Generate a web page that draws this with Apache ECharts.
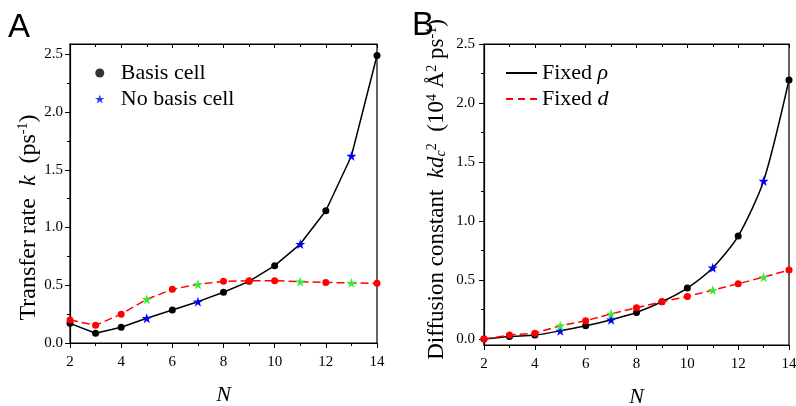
<!DOCTYPE html>
<html><head><meta charset="utf-8">
<script src="https://cdn.jsdelivr.net/npm/echarts@6/dist/echarts.min.js"></script>
<style>html,body{margin:0;padding:0;background:#fff}#c{width:796px;height:406px}</style>
</head><body><div id="c"></div>
<script>
// ---- data ----
const N = [2,3,4,5,6,7,8,9,10,11,12,13,14];
const starN = [5,7,11,13];
const rateBasisCell = [0.17,0.084,0.136,0.214,0.286,0.358,0.44,0.534,0.67,0.857,1.146,1.62,2.49];
const rateFixedD    = [0.20,0.153,0.25,0.378,0.465,0.508,0.534,0.54,0.54,0.531,0.525,0.52,0.517];
const diffFixedRho  = [0.0,0.022,0.034,0.07,0.113,0.164,0.226,0.316,0.432,0.604,0.873,1.339,2.195];
const diffFixedD    = [0.0,0.034,0.05,0.113,0.155,0.214,0.265,0.316,0.361,0.415,0.469,0.525,0.585];
const xTicks = [2,4,6,8,10,12,14];
const yTicks = [0,0.5,1.0,1.5,2.0,2.5];
const legendA = ['Basis cell','No basis cell'];
const legendB = ['Fixed ρ','Fixed d'];

// ---- styling ----
const SERIF = 'Liberation Serif';
const STAR = 'path://M50,0 L61.8,35.4 L99,35.4 L69,57.3 L80.3,92.7 L50,70.8 L19.7,92.7 L31,57.3 L1,35.4 L38.2,35.4 Z';
const yMinor = yTicks.slice(0,-1).map(v => v + 0.25);

function pts(vals, circleColor, starColor) {
  return N.map((n,i) => {
    const s = starN.includes(n);
    return {value:[n, vals[i]], symbol: s ? STAR : 'circle', symbolSize: s ? 10 : 7,
            itemStyle:{color: s ? starColor : circleColor}};
  });
}

function xAxes(grid) {
  return [{
    gridIndex:grid, type:'value', min:xTicks[0], max:xTicks[xTicks.length-1], interval:2, position:'bottom',
    axisLine:{show:true, onZero:false, lineStyle:{color:'#000', width:1.2}},
    axisTick:{show:true, inside:false, length:5, lineStyle:{color:'#000'}},
    minorTick:{show:true, splitNumber:2, length:3, lineStyle:{color:'#000'}},
    axisLabel:{margin:12, fontFamily:SERIF, fontSize:15, color:'#000'},
    splitLine:{show:false},
    name:'N', nameLocation:'middle', nameGap:41,
    nameTextStyle:{fontFamily:SERIF, fontSize:22, fontStyle:'italic', color:'#000'}
  },{
    gridIndex:grid, type:'value', min:xTicks[0], max:xTicks[xTicks.length-1], interval:2, position:'top',
    axisLine:{show:true, onZero:false, lineStyle:{color:'#000', width:1.2}},
    axisTick:{show:true, inside:true, length:4, lineStyle:{color:'#000'}},
    minorTick:{show:true, splitNumber:2, length:3, lineStyle:{color:'#000'}},
    axisLabel:{show:false}, splitLine:{show:false}
  }];
}
function yAxes(grid, min, max, name, rich, gap, margin, fs, pad) {
  return [{
    gridIndex:grid, type:'value', min:min, max:max, position:'left',
    axisLine:{show:true, onZero:false, lineStyle:{color:'#000', width:1.2}},
    axisTick:{show:true, inside:false, length:5, customValues:yTicks, lineStyle:{color:'#000'}},
    axisLabel:{customValues:yTicks, formatter:v => v.toFixed(1), margin:margin,
               fontFamily:SERIF, fontSize:15, color:'#000'},
    splitLine:{show:false},
    name:name, nameLocation:'middle', nameRotate:90, nameGap:gap,
    nameTextStyle:{fontFamily:SERIF, fontSize:fs, color:'#000', rich:rich, padding:pad}
  },{
    gridIndex:grid, type:'value', min:min, max:max, position:'left',
    axisLine:{show:false, onZero:false},
    axisTick:{show:true, inside:false, length:3, customValues:yMinor, lineStyle:{color:'#000'}},
    axisLabel:{show:false}, splitLine:{show:false}
  }];
}

function richFor(fs) {
  return {
    i:{fontFamily:SERIF, fontSize:fs, fontStyle:'italic', color:'#000'},
    sup:{fontFamily:SERIF, fontSize:Math.round(fs*0.6), verticalAlign:'top', color:'#000'},
    sub:{fontFamily:SERIF, fontSize:Math.round(fs*0.6), fontStyle:'italic', verticalAlign:'bottom', color:'#000'}
  };
}

const chart = echarts.init(document.getElementById('c'), null, {renderer:'canvas'});
chart.setOption({
  animation:false,
  backgroundColor:'#fff',
  grid:[
    {left:70, top:44, width:307, height:299, show:true, borderColor:'#000', borderWidth:1.2,
     containLabel:false, outerBoundsMode:'none'},
    {left:484, top:44, width:305, height:301, show:true, borderColor:'#000', borderWidth:1.2,
     containLabel:false, outerBoundsMode:'none'}
  ],
  xAxis:[...xAxes(0), ...xAxes(1)],
  yAxis:[
    ...yAxes(0, 0, 2.59, 'Transfer rate  {i|k}  (ps{sup|-1})', richFor(24), 28, 7, 24, [0,48,0,0]),
    ...yAxes(1, -0.05, 2.5, 'Diffusion constant  {i|kd}{sub|c}{sup|2}  (10{sup|4} Å{sup|2} ps{sup|-1})', richFor(23), 36, 9, 23, [0,0,0,10])
  ],
  legend:[
    {data:legendA, orient:'vertical', left:90, top:57, itemWidth:32, itemHeight:9, itemGap:4,
     itemStyle:{borderWidth:0},
     textStyle:{fontFamily:SERIF, fontSize:22, color:'#000'}},
    {data:legendB, orient:'vertical', left:500, top:57, itemWidth:31, itemHeight:10, itemGap:4,
     itemStyle:{opacity:0},
     formatter: n => n.replace(/ (\S+)$/, ' {i|$1}'),
     textStyle:{fontFamily:SERIF, fontSize:22, color:'#000',
       rich:{i:{fontFamily:SERIF, fontSize:22, fontStyle:'italic', color:'#000'}}}}
  ],
  graphic:[
    {type:'text', left:8, top:11, style:{text:'A', font:'33px "Liberation Sans"', fill:'#000'}},
    {type:'text', left:412, top:9, style:{text:'B', font:'33px "Liberation Sans"', fill:'#000'}}
  ],
  series:[
    {type:'scatter', name:legendA[0], xAxisIndex:0, yAxisIndex:0, data:[], symbol:'circle', itemStyle:{color:'#000'}},
    {type:'scatter', name:legendA[1], xAxisIndex:0, yAxisIndex:0, data:[], symbol:STAR, itemStyle:{color:'#0000ff'}},
    {type:'line', name:'A basis', xAxisIndex:0, yAxisIndex:0, data:pts(rateBasisCell,'#000','#0000ff'),
     lineStyle:{color:'#000', width:1.5}, z:3},
    {type:'line', name:'A fixed d', xAxisIndex:0, yAxisIndex:0, data:pts(rateFixedD,'#ff0000','#33ee33'),
     lineStyle:{color:'#ff0000', width:1.5, type:[8,4]}, z:4},
    {type:'line', name:legendB[0], xAxisIndex:2, yAxisIndex:2, data:[], symbol:'none',
     itemStyle:{opacity:0}, lineStyle:{color:'#000', width:1.5}},
    {type:'line', name:legendB[1], xAxisIndex:2, yAxisIndex:2, data:[], symbol:'none',
     itemStyle:{opacity:0}, lineStyle:{color:'#ff0000', width:1.5, type:[7,5]}},
    {type:'line', name:'B rho', xAxisIndex:2, yAxisIndex:2, data:pts(diffFixedRho,'#000','#0000ff'),
     smooth:0.25, lineStyle:{color:'#000', width:1.5}, z:3},
    {type:'line', name:'B d', xAxisIndex:2, yAxisIndex:2, data:pts(diffFixedD,'#ff0000','#33ee33'),
     lineStyle:{color:'#ff0000', width:1.5, type:[8,4]}, z:4}
  ]
});
</script></body></html>
